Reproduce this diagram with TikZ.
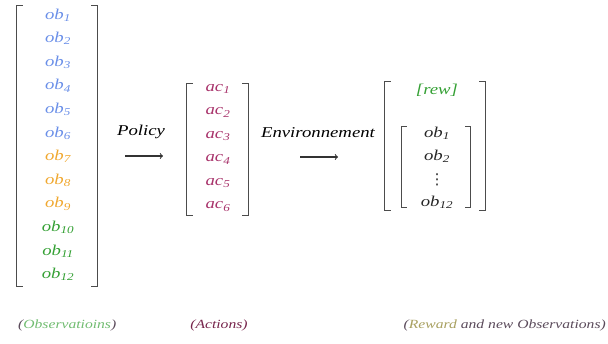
\documentclass[tikz,border=0pt]{standalone}
\usepackage{fontspec}
\setmainfont[FakeStretch=1.25]{Liberation Serif}
\newfontfamily\dotsfont{DejaVu Sans}
\begin{document}
\begin{tikzpicture}[x=1pt,y=-1pt]
  \definecolor{obblue}{HTML}{6A8FE8}
  \definecolor{oborange}{HTML}{F0A830}
  \definecolor{obgreen}{HTML}{34A034}
  \definecolor{acpink}{HTML}{A8336B}
  \definecolor{capdark}{HTML}{5A4A5A}
  \definecolor{rewolive}{HTML}{A8A060}
  \tikzstyle{item}=[font=\fontsize{15}{18}\selectfont\itshape, inner sep=0pt]
  \tikzstyle{legend}=[font=\fontsize{12.5}{15}\selectfont\itshape, inner sep=0pt]
  \tikzstyle{box}=[inner sep=0pt]
  \tikzstyle{brak}=[draw=black!70, line width=1.3pt]
  \tikzstyle{arr}=[->, >=to, line width=1.1pt, draw=black!80]
  \useasboundingbox (0,0) rectangle (608,344);

  % Colonne des observations, crochets de x = 17 a 97
  \node[box, minimum width=80, minimum height=280] (obsbox) at (57,146) {};
  \node[item, text=obblue] (ob1) at (58,15) {ob\textsubscript{1}};
  \node[item, text=obblue] (ob2) at (58,38.6) {ob\textsubscript{2}};
  \node[item, text=obblue] (ob3) at (58,62.2) {ob\textsubscript{3}};
  \node[item, text=obblue] (ob4) at (58,85.8) {ob\textsubscript{4}};
  \node[item, text=obblue] (ob5) at (58,109.4) {ob\textsubscript{5}};
  \node[item, text=obblue] (ob6) at (58,133) {ob\textsubscript{6}};
  \node[item, text=oborange] (ob7) at (58,156.6) {ob\textsubscript{7}};
  \node[item, text=oborange] (ob8) at (58,180.2) {ob\textsubscript{8}};
  \node[item, text=oborange] (ob9) at (58,203.8) {ob\textsubscript{9}};
  \node[item, text=obgreen] (ob10) at (58,227.4) {ob\textsubscript{10}};
  \node[item, text=obgreen] (ob11) at (58,251) {ob\textsubscript{11}};
  \node[item, text=obgreen] (ob12) at (58,274.6) {ob\textsubscript{12}};
  \draw[brak] ([xshift=6pt]obsbox.north west) -- (obsbox.north west) -- (obsbox.south west) -- ([xshift=6pt]obsbox.south west);
  \draw[brak] ([xshift=-6pt]obsbox.north east) -- (obsbox.north east) -- (obsbox.south east) -- ([xshift=-6pt]obsbox.south east);

  % Policy
  \node[item] (policy) at (141,132) {Policy};
  \coordinate (pa) at (125,156);
  \coordinate (pb) at (163,156);
  \draw[arr] (pa) -- (pb);

  % Colonne des actions
  \node[box, minimum width=61, minimum height=131] (acbox) at (217.5,149.5) {};
  \node[item, text=acpink] (ac1) at (218,89) {ac\textsubscript{1}};
  \node[item, text=acpink] (ac2) at (218,112.5) {ac\textsubscript{2}};
  \node[item, text=acpink] (ac3) at (218,136) {ac\textsubscript{3}};
  \node[item, text=acpink] (ac4) at (218,159.5) {ac\textsubscript{4}};
  \node[item, text=acpink] (ac5) at (218,183) {ac\textsubscript{5}};
  \node[item, text=acpink] (ac6) at (218,206.5) {ac\textsubscript{6}};
  \draw[brak] ([xshift=6pt]acbox.north west) -- (acbox.north west) -- (acbox.south west) -- ([xshift=6pt]acbox.south west);
  \draw[brak] ([xshift=-6pt]acbox.north east) -- (acbox.north east) -- (acbox.south east) -- ([xshift=-6pt]acbox.south east);

  % Environnement
  \node[item] (env) at (318,133) {Environnement};
  \coordinate (ea) at (300,157);
  \coordinate (eb) at (338,157);
  \draw[arr] (ea) -- (eb);

  % Recompense et nouvelles observations
  \node[box, minimum width=100, minimum height=128] (resbox) at (435,146) {};
  \node[item, text=obgreen] (rew) at (437,90) {[rew]};
  \node[box, minimum width=68, minimum height=80] (newbox) at (436,167) {};
  \node[item, text=black!85] (nob1) at (437,133) {ob\textsubscript{1}};
  \node[item, text=black!85] (nob2) at (437,156) {ob\textsubscript{2}};
  \node[item, text=black!85, font=\fontsize{15}{15}\dotsfont] (ndots) at (437,180) {⋮};
  \node[item, text=black!85] (nob12) at (437,202) {ob\textsubscript{12}};
  \draw[brak] ([xshift=6pt]resbox.north west) -- (resbox.north west) -- (resbox.south west) -- ([xshift=6pt]resbox.south west);
  \draw[brak] ([xshift=-6pt]resbox.north east) -- (resbox.north east) -- (resbox.south east) -- ([xshift=-6pt]resbox.south east);
  \draw[brak] ([xshift=5pt]newbox.north west) -- (newbox.north west) -- (newbox.south west) -- ([xshift=5pt]newbox.south west);
  \draw[brak] ([xshift=-5pt]newbox.north east) -- (newbox.north east) -- (newbox.south east) -- ([xshift=-5pt]newbox.south east);

  % Legendes
  \node[legend, anchor=west, text=capdark] (capobs) at (18,325) {(\textcolor{obgreen!70}{Observatioins})};
  \node[legend, text=acpink!70!black] (capac) at (219,325) {(Actions)};
  \node[legend, anchor=east, text=capdark] (capres) at (606,325) {(\textcolor{rewolive}{Reward} and new Observations)};
\end{tikzpicture}
\end{document}
